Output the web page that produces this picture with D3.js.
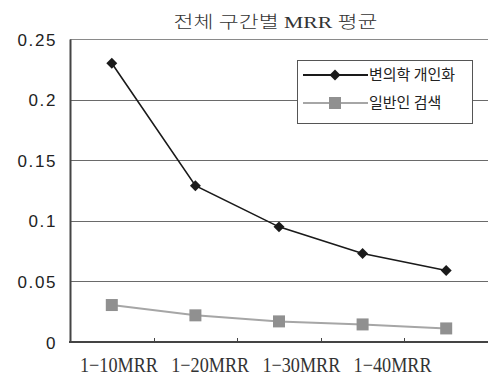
<!DOCTYPE html>
<html>
<head>
<meta charset="utf-8">
<script src="https://cdn.jsdelivr.net/npm/d3@7/dist/d3.min.js"></script>
<style>
  html, body { margin: 0; padding: 0; background: #fff; }
  svg { display: block; }
</style>
</head>
<body>
<div id="chart"></div>
<script>
// Average MRR per cutoff range, two search modes
const categories = ["1-10MRR", "1-20MRR", "1-30MRR", "1-40MRR", "1-50MRR"];
const tickLabels = ["1-10MRR", "1-20MRR", "1-30MRR", "1-40MRR"];
const seriesNames = ["변의학 개인화", "일반인 검색"];
const personalized = [0.230, 0.129, 0.095, 0.073, 0.059];
const generalSearch = [0.0305, 0.022, 0.017, 0.0145, 0.0112];
const yTicks = [0, 0.05, 0.1, 0.15, 0.2, 0.25];
const yTickText = ["0", "0.05", "0.1", "0.15", "0.2", "0.25"];

const W = 488, H = 379;
const plot = { left: 70, right: 488, top: 39, bottom: 342 };

const svg = d3.select("#chart").append("svg")
  .attr("width", W).attr("height", H);

const x = d3.scaleBand().domain(categories)
  .range([plot.left, plot.right]).paddingInner(0).paddingOuter(0);
const y = d3.scaleLinear().domain([0, 0.25]).range([plot.bottom, plot.top]);

// category labels sit on their own, slightly wider spacing
const xLabel = d3.scalePoint().domain(categories)
  .range([119, 119 + 91.2 * 4]);

// title
svg.append("text")
  .attr("x", 275.5).attr("y", 28)
  .attr("text-anchor", "middle")
  .attr("font-family", "'Liberation Serif', 'Noto Sans CJK KR', serif")
  .attr("font-size", 17)
  .attr("font-weight", 300)
  .attr("fill", "#333")
  .attr("textLength", 204).attr("lengthAdjust", "spacingAndGlyphs")
  .text("전체 구간별 MRR 평균");

// horizontal gridlines
svg.append("g").selectAll("line")
  .data(yTicks.filter(v => v > 0 && v < 0.25))
  .join("line")
  .attr("x1", plot.left).attr("x2", plot.right)
  .attr("y1", d => Math.round(y(d)) + 0.5).attr("y2", d => Math.round(y(d)) + 0.5)
  .attr("stroke", "#6a6a6a").attr("stroke-width", 1);

// top border
svg.append("line")
  .attr("x1", plot.left).attr("x2", plot.right)
  .attr("y1", y(0.25) + 0.5).attr("y2", y(0.25) + 0.5)
  .attr("stroke", "#8a8a8a").attr("stroke-width", 1);

// y axis
const yAxis = d3.axisLeft(y).tickValues(yTicks).tickSize(0).tickPadding(13)
  .tickFormat((d, i) => yTickText[i]);
const gy = svg.append("g").attr("transform", `translate(${plot.left},0)`).call(yAxis);
gy.select(".domain").attr("stroke", "#444").attr("stroke-width", 2);
gy.selectAll("text")
  .attr("font-family", "'Liberation Sans', Arial, sans-serif")
  .attr("font-size", 17)
  .attr("letter-spacing", 1.6)
  .attr("fill", "#222")
  .attr("dy", "0.36em");

// x axis with inward ticks at the band edges
const gx = svg.append("g").attr("transform", `translate(0,${plot.bottom})`);
gx.append("line")
  .attr("x1", plot.left - 1).attr("x2", plot.right)
  .attr("stroke", "#444").attr("stroke-width", 2);
gx.selectAll(".tick")
  .data(categories.slice(1))
  .join("line")
  .attr("class", "tick")
  .attr("x1", d => Math.round(x(d)) + 0.5).attr("x2", d => Math.round(x(d)) + 0.5)
  .attr("y1", 0).attr("y2", -4)
  .attr("stroke", "#444").attr("stroke-width", 1);
gx.selectAll("text")
  .data(tickLabels)
  .join("text")
  .attr("x", d => xLabel(d))
  .attr("y", 30)
  .attr("text-anchor", "middle")
  .attr("font-family", "'Liberation Serif', serif")
  .attr("font-size", 21)
  .attr("fill", "#333")
  .attr("textLength", 78).attr("lengthAdjust", "spacingAndGlyphs")
  .text(d => d.replace("-", "\u2212"));

const cx = d => x(d) + x.bandwidth() / 2;
const line = vals => d3.line().x((d, i) => cx(categories[i])).y(d => y(d))(vals);

// general search series (grey squares)
svg.append("path").attr("d", line(generalSearch))
  .attr("fill", "none").attr("stroke", "#a6a6a6").attr("stroke-width", 2);
svg.append("g").selectAll("rect").data(generalSearch).join("rect")
  .attr("x", (d, i) => cx(categories[i]) - 6).attr("y", d => y(d) - 6)
  .attr("width", 12).attr("height", 12)
  .attr("fill", "#909090");

// personalized series (black diamonds)
svg.append("path").attr("d", line(personalized))
  .attr("fill", "none").attr("stroke", "#1a1a1a").attr("stroke-width", 1.6);
const diamond = d3.symbol().type(d3.symbolSquare).size(60);
svg.append("g").selectAll("path").data(personalized).join("path")
  .attr("d", diamond)
  .attr("transform", (d, i) => `translate(${cx(categories[i])},${y(d)}) rotate(45)`)
  .attr("fill", "#1a1a1a");

// legend
const lg = svg.append("g");
lg.append("rect")
  .attr("x", 297.5).attr("y", 60.5).attr("width", 175).attr("height", 63)
  .attr("fill", "#fff").attr("stroke", "#555").attr("stroke-width", 1);
const rows = [
  { name: seriesNames[0], y: 75, color: "#1a1a1a", w: 2, mark: "diamond" },
  { name: seriesNames[1], y: 103, color: "#a6a6a6", w: 2, mark: "square" }
];
rows.forEach(r => {
  lg.append("line").attr("x1", 303).attr("x2", 368)
    .attr("y1", r.y).attr("y2", r.y)
    .attr("stroke", r.color).attr("stroke-width", r.w);
  if (r.mark === "diamond") {
    lg.append("path").attr("d", diamond)
      .attr("transform", `translate(335,${r.y}) rotate(45)`).attr("fill", "#1a1a1a");
  } else {
    lg.append("rect").attr("x", 329).attr("y", r.y - 6)
      .attr("width", 12).attr("height", 12).attr("fill", "#909090");
  }
  lg.append("text").attr("x", 369).attr("y", r.y)
    .attr("dy", "0.35em")
    .attr("font-family", "'Noto Sans CJK KR', sans-serif")
    .attr("font-size", 15).attr("fill", "#222")
    .text(r.name);
});
</script>
</body>
</html>
